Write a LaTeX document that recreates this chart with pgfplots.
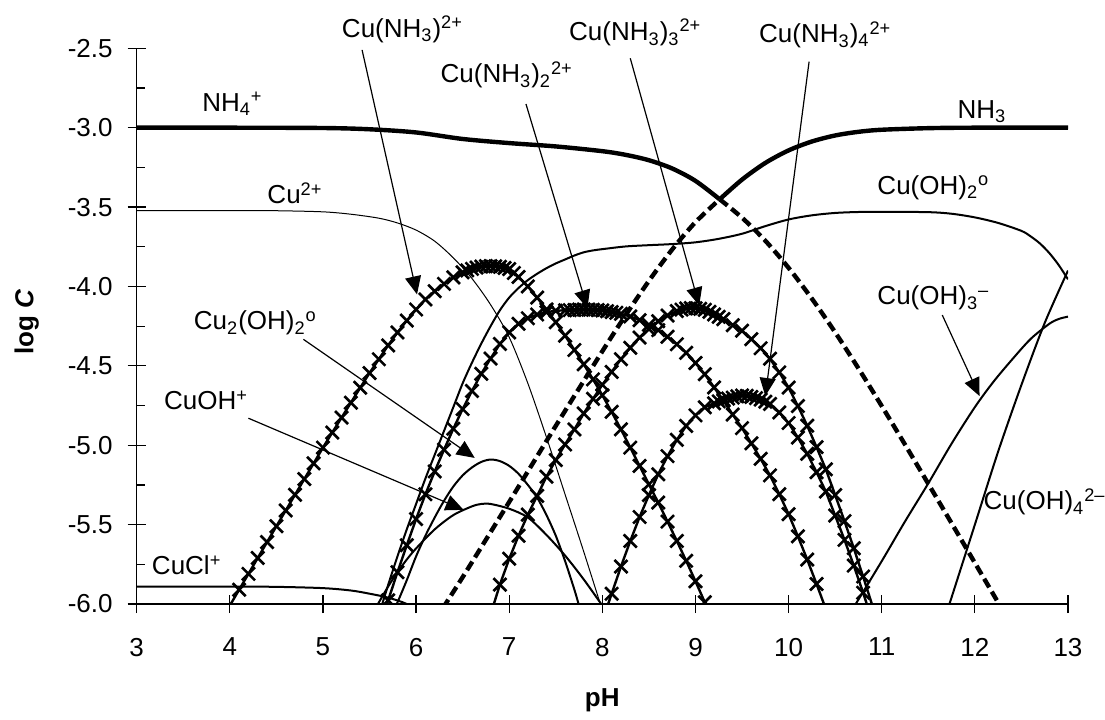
\documentclass[border=0pt]{standalone}
\usepackage{fontspec}
\setmainfont{Liberation Sans}
\usepackage{pgfplots}
\pgfplotsset{compat=1.18}
\usetikzlibrary{arrows.meta}
\newcommand{\lab}{\fontsize{13}{15}\selectfont}
\begin{document}
\begin{tikzpicture}
\useasboundingbox (-68.35pt,-57.5pt) rectangle (484.15pt,302pt);
\begin{axis}[
  at={(0pt,0pt)}, anchor=south west,
  scale only axis, width=465.65pt, height=277.85pt,
  xmin=3, xmax=13, ymin=-6, ymax=-2.5,
  axis x line=bottom, axis y line=left,
  axis line style={-, line width=0.6pt},
  xtick={3,4,5,6,7,8,9,10,11,12,13},
  xticklabels={3,4,5,6,7,8,9,10,11,12,13},
  ytick={-6,-5.5,-5,-4.5,-4,-3.5,-3,-2.5},
  yticklabels={-6.0,-5.5,-5.0,-4.5,-4.0,-3.5,-3.0,-2.5},
  minor y tick num=1,
  tick align=center,
  major tick length=9pt,
  minor tick length=4pt,
  tick style={line width=0.6pt, black},
  every minor y tick/.append style={xshift=2pt},
  ticklabel style={font=\lab},
  xticklabel style={yshift=-9pt},
  yticklabel style={xshift=-4pt},
  clip mode=individual, clip marker paths=true,
  every axis plot/.append style={black},
  mk/.style={line width=1.2pt, mark=x, mark size=4.6pt, mark options={solid, line width=1.3pt}},
  sl/.style={line width=1pt, smooth, tension=0.5, no markers},
]
% NH4+ solid part
\addplot[line width=2.2pt, smooth, tension=0.5, no markers] coordinates {
(3,-3.0)(4,-3.0)(5,-3.002)(5.5,-3.01)(6,-3.03)(6.5,-3.071)(7,-3.097)(7.5,-3.118)(8,-3.148)(8.25,-3.171)(8.5,-3.205)(8.75,-3.257)(9,-3.335)(9.26,-3.451)};
% NH4+ dashed part
\addplot[line width=2.2pt, smooth, tension=0.5, no markers, dash pattern=on 5pt off 2.5pt] coordinates {
(9.26,-3.451)(9.5,-3.567)(9.75,-3.712)(10,-3.883)(10.25,-4.077)(10.5,-4.289)(10.75,-4.516)(11,-4.753)(11.25,-4.996)(11.5,-5.243)(11.75,-5.491)(12,-5.741)(12.25,-5.991)(12.5,-6.241)};
% NH3 dashed part
\addplot[line width=2.2pt, smooth, tension=0.5, no markers, dash pattern=on 5pt off 2.5pt] coordinates {
(6.2,-6.105)(6.5,-5.831)(7,-5.357)(7.5,-4.878)(8,-4.408)(8.25,-4.181)(8.5,-3.965)(8.75,-3.767)(9,-3.595)(9.26,-3.451)};
% NH3 solid part
\addplot[line width=2.2pt, smooth, tension=0.5, no markers] coordinates {
(9.26,-3.451)(9.5,-3.327)(9.75,-3.222)(10,-3.143)(10.25,-3.087)(10.5,-3.049)(10.75,-3.026)(11,-3.013)(11.5,-3.003)(12,-3.0)(13,-3.0)};
% Cu2+ thin
\addplot[line width=0.5pt, smooth, tension=0.5, no markers] coordinates {
(3,-3.522)(4,-3.522)(4.5,-3.523)(5.0,-3.53)(5.3,-3.545)(5.6,-3.57)(5.8,-3.60)(6.0,-3.645)(6.2,-3.715)(6.4,-3.82)(6.6,-3.95)(6.8,-4.115)(7.0,-4.32)(7.2,-4.61)(7.4,-4.95)(7.6,-5.31)(7.8,-5.67)(8.0,-6.04)};
% CuCl+
\addplot[sl] coordinates {
(3,-5.89)(4,-5.89)(4.5,-5.892)(5.0,-5.90)(5.3,-5.915)(5.5,-5.935)(5.7,-5.96)(5.9,-6.0)(6.1,-6.07)};
% CuOH+
\addplot[sl] coordinates {
(5.55,-6.04)(5.6,-5.99)(5.7,-5.89)(5.8,-5.80)(5.9,-5.72)(6.0,-5.65)(6.2,-5.53)(6.4,-5.44)(6.6,-5.385)(6.7,-5.37)(6.8,-5.37)(7.0,-5.40)(7.2,-5.455)(7.4,-5.565)(7.6,-5.695)(7.8,-5.845)(8.0,-6.01)(8.05,-6.05)};
% Cu2(OH)2
\addplot[sl] coordinates {
(5.75,-6.05)(5.8,-5.99)(5.9,-5.85)(6.0,-5.70)(6.1,-5.57)(6.2,-5.455)(6.3,-5.35)(6.4,-5.26)(6.5,-5.19)(6.6,-5.14)(6.7,-5.105)(6.8,-5.09)(6.9,-5.10)(7.0,-5.13)(7.1,-5.18)(7.2,-5.25)(7.3,-5.33)(7.4,-5.44)(7.5,-5.57)(7.6,-5.73)(7.7,-5.91)(7.75,-6.01)(7.78,-6.06)};
% Cu(OH)2o
\addplot[sl] coordinates {
(5.6,-6.07)(5.7,-5.88)(5.8,-5.70)(5.9,-5.53)(6.0,-5.37)(6.1,-5.21)(6.2,-5.06)(6.3,-4.91)(6.4,-4.76)(6.5,-4.61)(6.6,-4.48)(6.7,-4.36)(6.8,-4.25)(6.9,-4.15)(7.0,-4.07)(7.1,-4.01)(7.2,-3.96)(7.3,-3.92)(7.4,-3.885)(7.5,-3.855)(7.6,-3.83)(7.7,-3.805)(7.8,-3.785)(7.9,-3.773)(8.0,-3.765)(8.25,-3.748)(8.5,-3.74)(8.75,-3.733)(9.0,-3.722)(9.25,-3.70)(9.5,-3.668)(9.75,-3.62)(10.0,-3.578)(10.25,-3.552)(10.5,-3.537)(10.75,-3.531)(11.0,-3.53)(11.5,-3.532)(11.75,-3.542)(12.0,-3.565)(12.25,-3.60)(12.5,-3.65)(12.6,-3.685)(12.7,-3.73)(12.8,-3.79)(12.9,-3.865)(13.0,-3.955)};
% Cu(OH)3-
\addplot[sl] coordinates {
(10.7,-6.02)(11.0,-5.73)(11.25,-5.48)(11.5,-5.24)(11.75,-4.99)(12.0,-4.76)(12.2,-4.60)(12.4,-4.46)(12.6,-4.33)(12.8,-4.235)(12.9,-4.205)(13.0,-4.19)};
% Cu(OH)4 2-
\addplot[sl] coordinates {
(11.7,-6.05)(12.0,-5.50)(12.25,-5.04)(12.5,-4.62)(12.75,-4.23)(13.0,-3.90)};
% Cu(NH3)2+
\addplot[mk] coordinates {
(4.0,-6.01)(4.1,-5.91)(4.2,-5.81)(4.3,-5.71)(4.4,-5.61)(4.5,-5.51)(4.6,-5.411)(4.7,-5.312)(4.8,-5.213)(4.9,-5.114)(5.0,-5.015)(5.1,-4.92)(5.2,-4.826)(5.3,-4.732)(5.4,-4.638)(5.5,-4.545)(5.6,-4.458)(5.7,-4.371)(5.8,-4.29)(5.9,-4.215)(6.0,-4.145)(6.1,-4.082)(6.2,-4.03)(6.3,-3.984)(6.4,-3.943)(6.5,-3.911)(6.55,-3.899)(6.6,-3.889)(6.65,-3.881)(6.7,-3.875)(6.75,-3.872)(6.8,-3.872)(6.85,-3.873)(6.9,-3.876)(6.95,-3.883)(7.0,-3.89)(7.05,-3.915)(7.1,-3.94)(7.2,-4.0)(7.3,-4.07)(7.4,-4.145)(7.5,-4.225)(7.6,-4.31)(7.7,-4.40)(7.8,-4.49)(7.9,-4.585)(8.0,-4.685)(8.1,-4.79)(8.2,-4.90)(8.3,-5.015)(8.4,-5.13)(8.5,-5.246)(8.6,-5.361)(8.7,-5.481)(8.8,-5.603)(8.9,-5.728)(9.0,-5.857)(9.1,-5.989)(9.2,-6.126)};
% Cu(NH3)2 2+
\addplot[mk] coordinates {
(5.6,-6.161)(5.7,-5.977)(5.8,-5.80)(5.9,-5.63)(6.0,-5.465)(6.1,-5.309)(6.2,-5.165)(6.3,-5.028)(6.4,-4.896)(6.5,-4.772)(6.6,-4.658)(6.7,-4.55)(6.8,-4.454)(6.9,-4.362)(7.0,-4.29)(7.1,-4.235)(7.2,-4.20)(7.3,-4.177)(7.4,-4.162)(7.5,-4.153)(7.6,-4.15)(7.65,-4.149)(7.7,-4.148)(7.75,-4.146)(7.8,-4.145)(7.85,-4.146)(7.9,-4.147)(7.95,-4.149)(8.0,-4.151)(8.05,-4.156)(8.1,-4.161)(8.15,-4.166)(8.2,-4.172)(8.3,-4.189)(8.4,-4.212)(8.5,-4.242)(8.6,-4.275)(8.7,-4.317)(8.8,-4.364)(8.9,-4.418)(9.0,-4.482)(9.1,-4.553)(9.2,-4.636)(9.3,-4.719)(9.4,-4.807)(9.5,-4.892)(9.6,-4.988)(9.7,-5.086)(9.8,-5.19)(9.9,-5.308)(10.0,-5.434)(10.1,-5.574)(10.2,-5.72)(10.3,-5.874)(10.4,-6.032)};
% Cu(NH3)3 2+
\addplot[mk] coordinates {
(6.8,-6.066)(6.9,-5.878)(7.0,-5.715)(7.1,-5.57)(7.2,-5.437)(7.3,-5.319)(7.4,-5.198)(7.5,-5.093)(7.6,-4.995)(7.7,-4.90)(7.8,-4.80)(7.9,-4.708)(8.0,-4.619)(8.1,-4.538)(8.2,-4.458)(8.3,-4.386)(8.4,-4.322)(8.5,-4.268)(8.6,-4.219)(8.7,-4.183)(8.8,-4.155)(8.85,-4.146)(8.9,-4.138)(8.95,-4.136)(9.0,-4.137)(9.05,-4.141)(9.1,-4.147)(9.15,-4.16)(9.2,-4.176)(9.25,-4.191)(9.3,-4.206)(9.4,-4.244)(9.5,-4.279)(9.6,-4.332)(9.7,-4.389)(9.8,-4.455)(9.9,-4.541)(10.0,-4.637)(10.1,-4.753)(10.2,-4.877)(10.3,-5.012)(10.4,-5.152)(10.5,-5.314)(10.6,-5.478)(10.7,-5.649)(10.8,-5.827)(10.9,-6.011)};
% Cu(NH3)4 2+
\addplot[mk] coordinates {
(8.0,-6.107)(8.1,-5.935)(8.2,-5.764)(8.3,-5.603)(8.4,-5.452)(8.5,-5.314)(8.6,-5.183)(8.7,-5.069)(8.8,-4.966)(8.9,-4.878)(9.0,-4.812)(9.1,-4.761)(9.2,-4.736)(9.25,-4.724)(9.3,-4.713)(9.35,-4.706)(9.4,-4.700)(9.45,-4.692)(9.5,-4.687)(9.55,-4.689)(9.6,-4.696)(9.65,-4.703)(9.7,-4.712)(9.75,-4.726)(9.8,-4.74)(9.9,-4.794)(10.0,-4.86)(10.1,-4.952)(10.2,-5.054)(10.3,-5.17)(10.4,-5.292)(10.5,-5.443)(10.6,-5.596)(10.7,-5.758)(10.8,-5.929)(10.9,-6.108)};

% labels
\tikzset{lbl/.style={anchor=base west, inner sep=0pt, font=\lab}}
\node[lbl] at (axis cs:3.70,-2.899) {NH\textsubscript{4}\textsuperscript{+}};
\node[lbl] at (axis cs:4.40,-3.48) {Cu\textsuperscript{2+}};
\node[lbl] at (axis cs:5.20,-2.43) {Cu(NH\textsubscript{3})\textsuperscript{2+}};
\node[lbl] at (axis cs:6.26,-2.717) {Cu(NH\textsubscript{3})\textsubscript{2}\textsuperscript{2+}};
\node[lbl] at (axis cs:7.64,-2.452) {Cu(NH\textsubscript{3})\textsubscript{3}\textsuperscript{2+}};
\node[lbl] at (axis cs:9.68,-2.465) {Cu(NH\textsubscript{3})\textsubscript{4}\textsuperscript{2+}};
\node[lbl] at (axis cs:11.81,-2.941) {NH\textsubscript{3}};
\node[lbl] at (axis cs:10.95,-3.419) {Cu(OH)\textsubscript{2}\textsuperscript{o}};
\node[lbl] at (axis cs:10.95,-4.116) {Cu(OH)\textsubscript{3}\textsuperscript{\textendash}};
\node[lbl] at (axis cs:12.09,-5.407) {Cu(OH)\textsubscript{4}\textsuperscript{2\textendash}};
\node[lbl] at (axis cs:3.61,-4.274) {Cu\textsubscript{2}(OH)\textsubscript{2}\textsuperscript{o}};
\node[lbl] at (axis cs:3.29,-4.778) {CuOH\textsuperscript{+}};
\node[lbl] at (axis cs:3.16,-5.817) {CuCl\textsuperscript{+}};
% arrows
\tikzset{arr/.style={line width=0.6pt, -{Triangle[length=9pt,width=8pt]}}}
\draw[arr] (axis cs:5.42,-2.51) -- (axis cs:6.01,-4.05);
\draw[arr] (axis cs:7.18,-2.851) -- (axis cs:7.84,-4.137);
\draw[arr] (axis cs:8.30,-2.563) -- (axis cs:9.04,-4.12);
\draw[arr] (axis cs:10.22,-2.584) -- (axis cs:9.75,-4.69);
\draw[arr] (axis cs:11.65,-4.18) -- (axis cs:12.05,-4.69);
\draw[arr] (axis cs:4.79,-4.333) -- (axis cs:6.63,-5.08);
\draw[arr] (axis cs:4.20,-4.83) -- (axis cs:6.51,-5.407);
\end{axis}
\node[font=\lab\bfseries, rotate=90] at (-55pt,141pt) {log \textit{C}};
\node[font=\lab\bfseries] at (232.8pt,-48pt) {pH};
\end{tikzpicture}
\end{document}
